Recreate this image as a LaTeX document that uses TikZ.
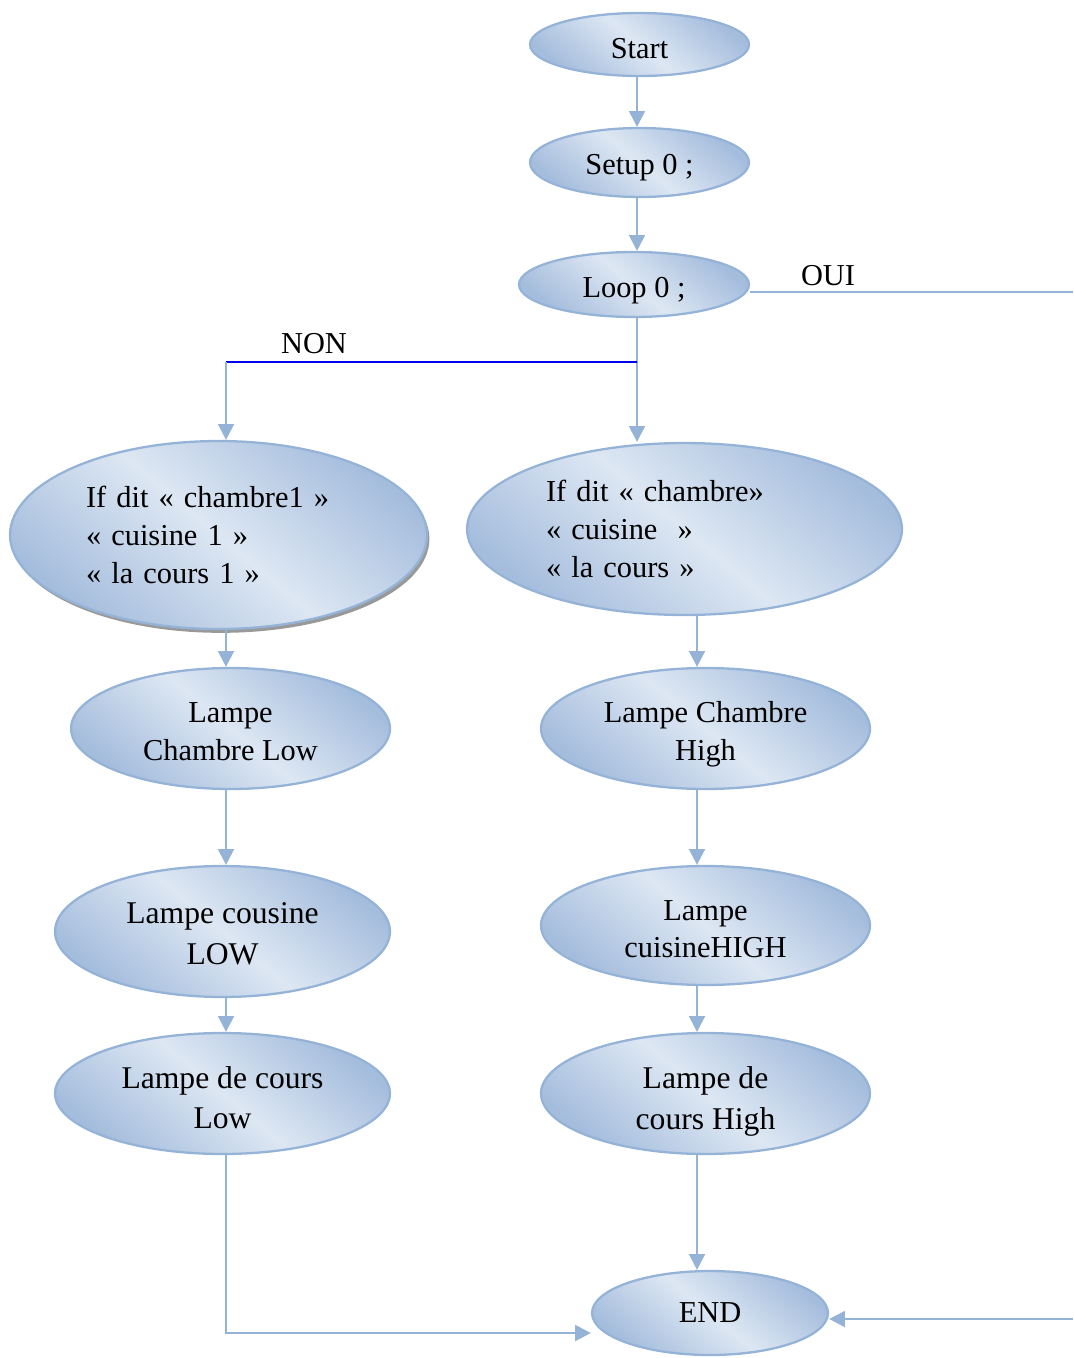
\documentclass[tikz,border=0pt]{standalone}
\usepackage{fontspec}
\setmainfont{Liberation Serif}
\usetikzlibrary{arrows.meta, shapes.geometric, shadows}
\definecolor{edgeblue}{RGB}{149,179,215}
\definecolor{filllight}{RGB}{221,231,243}
\definecolor{filldark}{RGB}{165,189,221}
\definecolor{nonblue}{RGB}{0,0,235}
\newcommand{\lift}[1]{\rule{0pt}{#1}}

\begin{document}
\begin{tikzpicture}[x=0.02cm,y=-0.02cm,
  etat/.style={ellipse,draw=edgeblue,line width=1.3pt,inner sep=0pt,
    top color=filldark,bottom color=filldark,middle color=filllight,shading angle=-40,
    font=\fontsize{17.3}{21.5}\selectfont,align=center},
  wire/.style={draw=edgeblue,line width=1.4pt},
  flow/.style={wire,-{Triangle[length=9pt,width=9pt]}},
  lbl/.style={font=\fontsize{17.3}{21.5}\selectfont}]
  \useasboundingbox (0,0) rectangle (1073,1358);
  % states
  \node[etat,minimum width=4.38cm,minimum height=1.26cm] (start) at (639.5,44.5) {\lift{16pt}Start};
  \node[etat,minimum width=4.38cm,minimum height=1.38cm] (setup) at (639.5,162.5) {\lift{17.5pt}Setup 0 ;};
  \node[etat,minimum width=4.6cm,minimum height=1.3cm] (loop) at (634,284.5) {\lift{18.5pt}Loop 0 ;};
  \node[etat,minimum width=8.34cm,minimum height=3.76cm,text width=5.3cm,align=left,
    drop shadow={shadow xshift=1.4pt,shadow yshift=-2.2pt,fill=black!40,opacity=1}]
    (ifnon) at (218.5,535) {If dit « chambre1 »\\« cuisine 1 »\\« la cours 1 »};
  \node[etat,minimum width=8.7cm,minimum height=3.44cm,text width=5.54cm,align=left]
    (ifoui) at (684.5,529) {If dit « chambre»\\« cuisine ~»\\« la cours »};
  \node[etat,minimum width=6.38cm,minimum height=2.42cm] (lcl) at (230.5,728.5) {\lift{15.4pt}Lampe\\Chambre Low};
  \node[etat,minimum width=6.58cm,minimum height=2.42cm] (lch) at (705.5,728.5) {\lift{18.8pt}Lampe Chambre\\High};
  \node[etat,minimum width=6.7cm,minimum height=2.62cm,font=\fontsize{18}{23.5}\selectfont]
    (lcsl) at (222.5,931.5) {\lift{14.7pt}Lampe cousine\\LOW};
  \node[etat,minimum width=6.58cm,minimum height=2.38cm] (lcsh) at (705.5,925.5) {\lift{15.4pt}Lampe\\cuisineHIGH};
  \node[etat,minimum width=6.7cm,minimum height=2.42cm,font=\fontsize{18}{23}\selectfont]
    (ldcl) at (222.5,1093.5) {\lift{17pt}Lampe de cours\\Low};
  \node[etat,minimum width=6.58cm,minimum height=2.42cm,font=\fontsize{18}{23}\selectfont]
    (ldch) at (705.5,1093.5) {\lift{21.6pt}Lampe de\\cours High};
  \node[etat,minimum width=4.72cm,minimum height=1.68cm] (endn) at (710,1313) {END};
  \node[lbl] (non) at (314,344) {NON};
  \node[lbl] (oui) at (828,276) {OUI};
  % connectors
  \coordinate (mcol) at (637,0);
  \coordinate (lcol) at (226,0);
  \coordinate (rcol) at (697,0);
  \coordinate (split) at (637,362);
  \coordinate (nonturn) at (226,362);
  \coordinate (ouiend) at (1073,292);
  \coordinate (ouiback) at (1073,1319);
  \coordinate (corner) at (226,1333);
  \draw[flow] (start.south -| mcol) -- (setup.north -| mcol);
  \draw[flow] (setup.south -| mcol) -- (loop.north -| mcol);
  \draw[wire] (loop.east |- ouiend) -- (ouiend);
  \draw[flow] (loop.south -| mcol) -- (ifoui.north -| mcol);
  \draw[nonblue,line width=1.1pt] (split) -- (nonturn);
  \draw[flow] (nonturn) -- (nonturn |- ifnon.north);
  \draw[flow] (ifnon.south -| lcol) -- (lcl.north -| lcol);
  \draw[flow] (lcl.south -| lcol) -- (lcsl.north -| lcol);
  \draw[flow] (lcsl.south -| lcol) -- (ldcl.north -| lcol);
  \draw[flow] (ldcl.south -| lcol) -- (corner) -- (corner -| endn.west);
  \draw[flow] (ifoui.south -| rcol) -- (lch.north -| rcol);
  \draw[flow] (lch.south -| rcol) -- (lcsh.north -| rcol);
  \draw[flow] (lcsh.south -| rcol) -- (ldch.north -| rcol);
  \draw[flow] (ldch.south -| rcol) -- (endn.north -| rcol);
  \draw[flow] (ouiback) -- (ouiback -| endn.east);
\end{tikzpicture}
\end{document}
